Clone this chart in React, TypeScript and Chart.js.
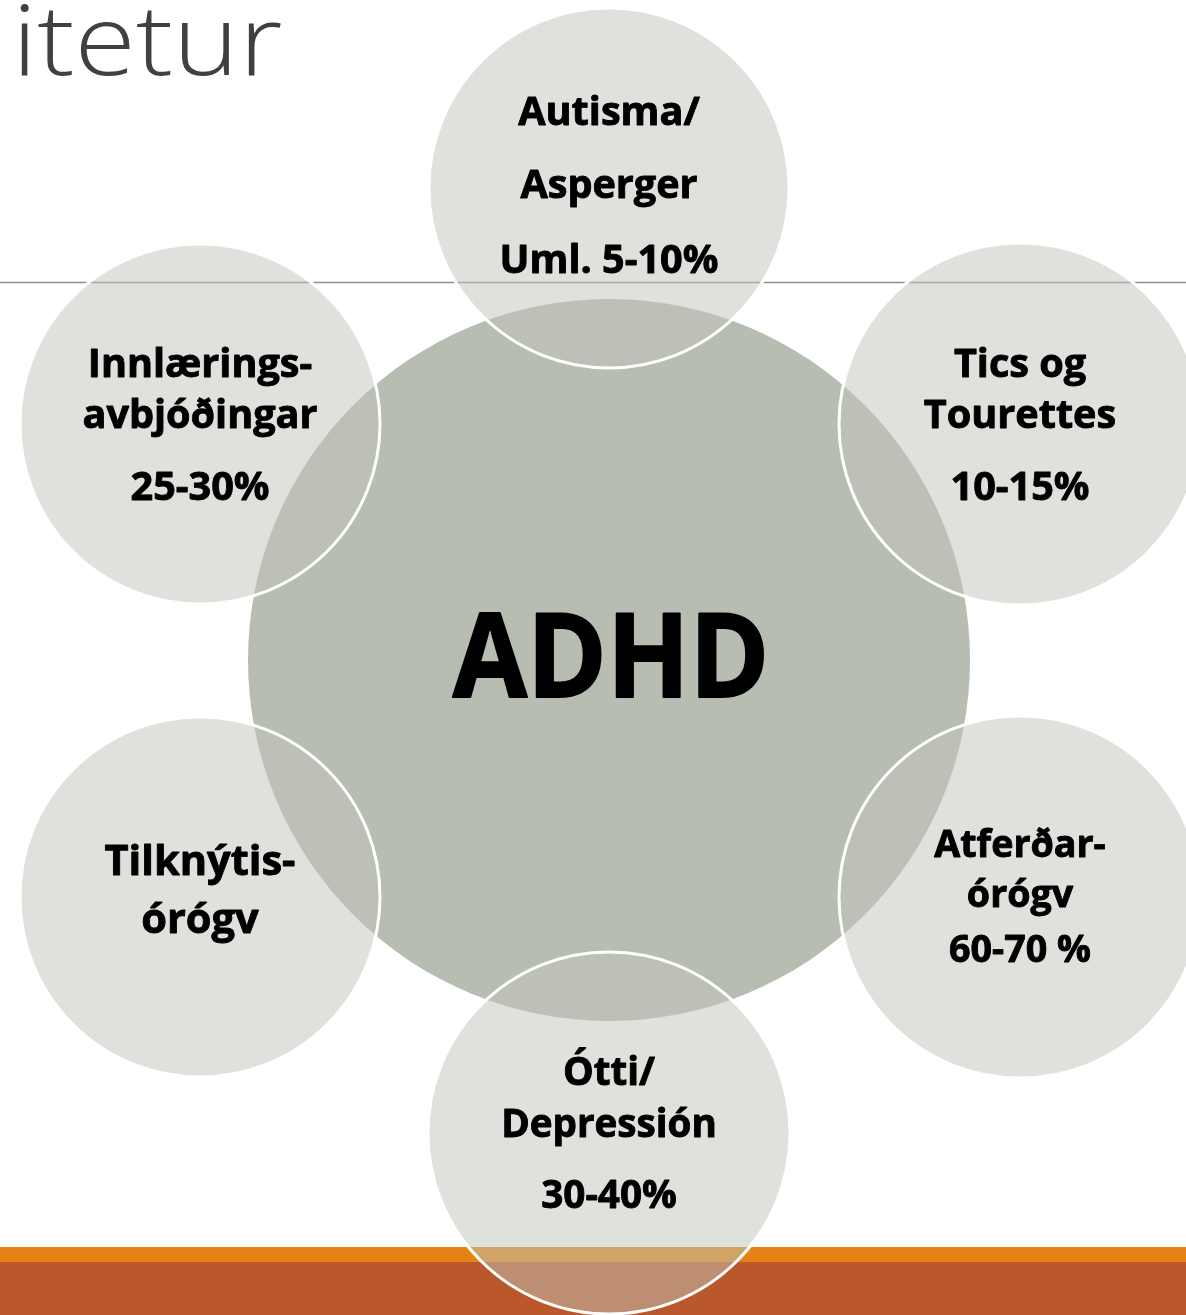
import React, { useEffect, useRef } from "react";
import { Chart, registerables } from "chart.js";

Chart.register(...registerables);

const CANVAS_W = 1186;
const CANVAS_H = 1315;

// Outer "comorbidity" bubbles
const outerLabels: string[][] = [
  ["Autisma/", "Asperger", "Uml. 5-10%"],
  ["Tics og", "Tourettes", "10-15%"],
  ["Atferðar-", "órógv", "60-70 %"],
  ["Ótti/", "Depressión", "30-40%"],
  ["Tilknýtis-", "órógv"],
  ["Innlærings-", "avbjóðingar", "25-30%"],
];
const outerX = [609, 1020, 1020, 609, 200, 200];
const outerY = [188, 424, 897, 1133, 897, 424];
const outerR = [180, 181, 181, 181, 180, 180];

// Centre bubble
const centerLabel = "ADHD";
const centerX = [609];
const centerY = [660];
const centerR = [361];

const titleText = "itetur";

// text layout (baseline offsets from bubble centre, font size)
const outerLayout = [
  { size: 40, offsets: [-63, 10, 85] },
  { size: 40, offsets: [-47, 4, 76] },
  { size: 38, offsets: [-40, 10, 65] },
  { size: 39, offsets: [-48, 4, 75] },
  { size: 42, offsets: [-22, 36] },
  { size: 40, offsets: [-47, 4, 76] },
];

const FONT = '"Open Sans", "DejaVu Sans", sans-serif';
const XSCALE = 0.99;
const XSCALE_CENTER = 0.93;

const drawBoldText = (ctx: CanvasRenderingContext2D, text: string, x: number, y: number, sx: number, stroke: number) => {
  ctx.save();
  ctx.translate(x, y);
  ctx.scale(sx, 1);
  ctx.fillText(text, 0, 0);
  ctx.lineWidth = stroke;
  ctx.lineJoin = "round";
  ctx.strokeStyle = "#000000";
  ctx.strokeText(text, 0, 0);
  ctx.restore();
};

const decorPlugin = {
  id: "decor",
  beforeDatasetsDraw(chart: any) {
    const ctx = chart.ctx as CanvasRenderingContext2D;
    ctx.save();
    // horizontal rule
    ctx.strokeStyle = "#8e8e8e";
    ctx.lineWidth = 1.5;
    ctx.beginPath();
    ctx.moveTo(0, 282.5);
    ctx.lineTo(CANVAS_W, 282.5);
    ctx.stroke();
    // bottom bands
    ctx.fillStyle = "#e48314";
    ctx.fillRect(0, 1247, CANVAS_W, 15);
    ctx.fillStyle = "#bb582b";
    ctx.fillRect(0, 1262, CANVAS_W, CANVAS_H - 1262);
    // title fragment
    ctx.fillStyle = "#404040";
    ctx.font = `300 97px ${FONT}`;
    ctx.textAlign = "left";
    ctx.textBaseline = "alphabetic";
    ctx.save();
    ctx.translate(12, 75);
    ctx.scale(1.15, 1);
    ctx.fillText(titleText, 0, 0);
    ctx.restore();
    ctx.restore();
  },
  afterDatasetsDraw(chart: any) {
    const ctx = chart.ctx as CanvasRenderingContext2D;
    const xs = chart.scales.x;
    const ys = chart.scales.y;
    ctx.save();
    ctx.fillStyle = "#000000";
    ctx.textAlign = "center";
    ctx.textBaseline = "alphabetic";
    outerLabels.forEach((lines, i) => {
      const cx = xs.getPixelForValue(outerX[i]);
      const cy = ys.getPixelForValue(outerY[i]);
      const lay = outerLayout[i];
      ctx.font = `700 ${lay.size}px ${FONT}`;
      lines.forEach((line, j) => {
        drawBoldText(ctx, line, cx, cy + lay.offsets[j], XSCALE, 0.9);
      });
    });
    // centre label
    const ccx = xs.getPixelForValue(centerX[0]);
    const ccy = ys.getPixelForValue(centerY[0]);
    ctx.font = `700 116px ${FONT}`;
    drawBoldText(ctx, centerLabel, ccx + 2, ccy + 37, XSCALE_CENTER, 2);
    ctx.restore();
  },
};

export default function App() {
  const ref = useRef<HTMLCanvasElement | null>(null);
  useEffect(() => {
    document.body.style.margin = "0";
    const canvas = ref.current;
    if (!canvas) return;
    const chart = new Chart(canvas, {
      type: "bubble",
      data: {
        datasets: [
          {
            label: "Fylgiraskanir",
            data: outerX.map((x, i) => ({ x, y: outerY[i], r: outerR[i] })),
            backgroundColor: "rgba(191,195,185,0.5)",
            borderColor: "#ffffff",
            borderWidth: 3,
            hoverRadius: 0,
            clip: false,
          } as any,
          {
            label: centerLabel,
            data: centerX.map((x, i) => ({ x, y: centerY[i], r: centerR[i] })),
            backgroundColor: "#b8bdb2",
            borderColor: "#b8bdb2",
            borderWidth: 0,
            hoverRadius: 0,
            clip: false,
          } as any,
        ],
      },
      options: {
        animation: false,
        responsive: false,
        maintainAspectRatio: false,
        events: [],
        layout: { padding: 0, autoPadding: false },
        plugins: {
          legend: { display: false },
          tooltip: { enabled: false },
          title: { display: false },
        },
        scales: {
          x: { type: "linear", min: 0, max: CANVAS_W, display: false },
          y: { type: "linear", min: 0, max: CANVAS_H, reverse: true, display: false },
        },
      } as any,
      plugins: [decorPlugin],
    });
    return () => chart.destroy();
  }, []);
  return (
    <div style={{ position: "absolute", left: 0, top: 0, width: CANVAS_W, height: CANVAS_H, background: "#ffffff" }}>
      <canvas ref={ref} width={CANVAS_W} height={CANVAS_H} style={{ display: "block", width: CANVAS_W, height: CANVAS_H }} />
    </div>
  );
}
